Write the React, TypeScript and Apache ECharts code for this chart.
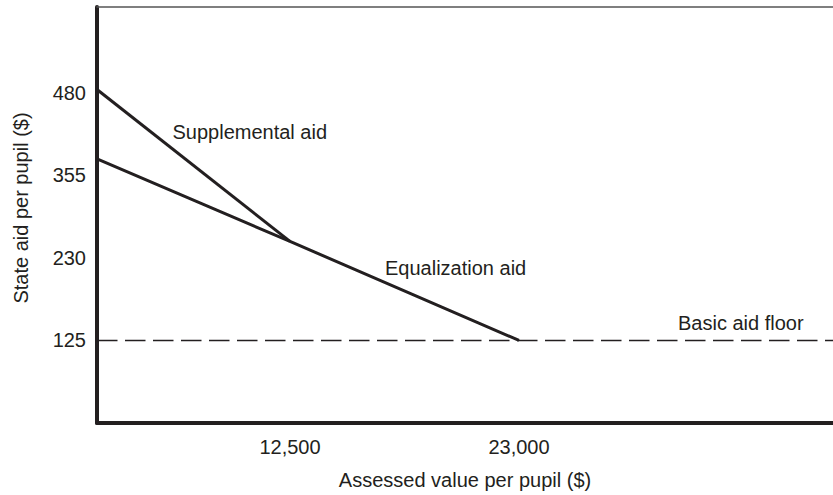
import React, { useEffect, useRef } from 'react';
import * as echarts from 'echarts';

// ---- data ----
const xTickValues = [12500, 23000];
const xTickLabels = ['12,500', '23,000'];
const yTickValues = [125, 230, 355, 480];
const yTickLabels = ['125', '230', '355', '480'];
const supplementalX = [0, 12500];
const supplementalY = [485, 255];
const equalizationX = [0, 12500, 23000];
const equalizationY = [380, 255, 125];
const basicAidFloor = 125;

// ---- layout (schematic, non-linear axes) ----
const X_PX = [0, 193, 422]; // horizontal offsets of 0, 12,500 and 23,000
const PLOT_W = 736;
const Y_MAX_SLOT = 5.04;
const INK = '#231f20';
const FONT = "'Liberation Sans', Arial, Helvetica, sans-serif";

function piecewise(v: number, from: number[], to: number[]): number {
  for (let i = 1; i < from.length; i++) {
    if (v <= from[i] || i === from.length - 1) {
      const t = (v - from[i - 1]) / (from[i] - from[i - 1]);
      return to[i - 1] + t * (to[i] - to[i - 1]);
    }
  }
  return to[0];
}
const xStops = [0, ...xTickValues];
const xPos = (v: number) => piecewise(v, xStops, X_PX);
const yStops = [0, ...yTickValues];
const ySlots = yStops.map((_, i) => i);
const yPos = (v: number) => piecewise(v, yStops, ySlots);

export default function App() {
  const ref = useRef<HTMLDivElement>(null);
  useEffect(() => {
    if (!ref.current) return;
    const chart = echarts.init(ref.current, undefined, { renderer: 'svg' });
    const xTickPos = xTickValues.map(xPos);
    chart.setOption({
      animation: false,
      grid: { left: 97, right: 0, top: 7, bottom: 70, containLabel: false },
      xAxis: [
        {
          type: 'value',
          min: 0,
          max: PLOT_W,
          position: 'bottom',
          axisLine: { show: true, onZero: false, lineStyle: { color: INK, width: 4 } },
          axisTick: { show: false },
          splitLine: { show: false },
          axisLabel: {
            customValues: xTickPos,
            formatter: (v: number) => {
              const i = xTickPos.findIndex((p) => Math.abs(p - v) < 0.5);
              return i >= 0 ? xTickLabels[i] : '';
            },
            fontSize: 20,
            fontFamily: FONT,
            color: INK,
            margin: 14,
          },
          name: 'Assessed value per pupil ($)',
          nameLocation: 'middle',
          nameGap: 47,
          nameTextStyle: { fontSize: 20, fontFamily: FONT, color: INK },
        },
        {
          type: 'value',
          min: 0,
          max: PLOT_W,
          position: 'top',
          axisLine: { show: true, onZero: false, lineStyle: { color: '#555', width: 1.5 } },
          axisTick: { show: false },
          axisLabel: { show: false },
          splitLine: { show: false },
        },
      ],
      yAxis: {
        type: 'value',
        min: 0,
        max: Y_MAX_SLOT,
        interval: 1,
        axisLine: { show: true, onZero: false, lineStyle: { color: INK, width: 4 } },
        axisTick: { show: false },
        splitLine: { show: false },
        axisLabel: {
          formatter: (v: number) => yTickLabels[Math.round(v) - 1] ?? '',
          fontSize: 20,
          fontFamily: FONT,
          color: INK,
          margin: 11,
        },
      },
      series: [
        {
          name: 'Supplemental aid',
          type: 'line',
          symbol: 'none',
          lineStyle: { color: INK, width: 3 },
          data: supplementalX.map((x, i) => [xPos(x), yPos(supplementalY[i])]),
          z: 3,
        },
        {
          name: 'Equalization aid',
          type: 'line',
          symbol: 'none',
          lineStyle: { color: INK, width: 3 },
          data: equalizationX.map((x, i) => [xPos(x), yPos(equalizationY[i])]),
          z: 3,
        },
        {
          name: 'Basic aid floor',
          type: 'line',
          symbol: 'none',
          data: [],
          markLine: {
            silent: true,
            symbol: ['none', 'none'],
            label: { show: false },
            lineStyle: { color: INK, width: 1.3, type: [20.5, 7.5] },
            data: [{ yAxis: yPos(basicAidFloor) }],
          },
          z: 2,
        },
      ],
      graphic: [
        {
          type: 'text',
          x: 172.5,
          y: 132,
          style: { text: 'Supplemental aid', font: `20px ${FONT}`, fill: INK, verticalAlign: 'middle', align: 'left' },
        },
        {
          type: 'text',
          x: 385,
          y: 267.5,
          style: { text: 'Equalization aid', font: `20px ${FONT}`, fill: INK, verticalAlign: 'middle', align: 'left' },
        },
        {
          type: 'text',
          x: 678,
          y: 323,
          style: { text: 'Basic aid floor', font: `20px ${FONT}`, fill: INK, verticalAlign: 'middle', align: 'left' },
        },
        {
          type: 'text',
          x: 21,
          y: 208,
          rotation: Math.PI / 2,
          style: { text: 'State aid per pupil ($)', font: `20px ${FONT}`, fill: INK, verticalAlign: 'middle', align: 'center' },
        },
      ],
    });
    return () => chart.dispose();
  }, []);
  return (
    <div
      ref={ref}
      style={{ position: 'absolute', left: 0, top: 0, width: 833, height: 495, background: '#fff' }}
    />
  );
}
